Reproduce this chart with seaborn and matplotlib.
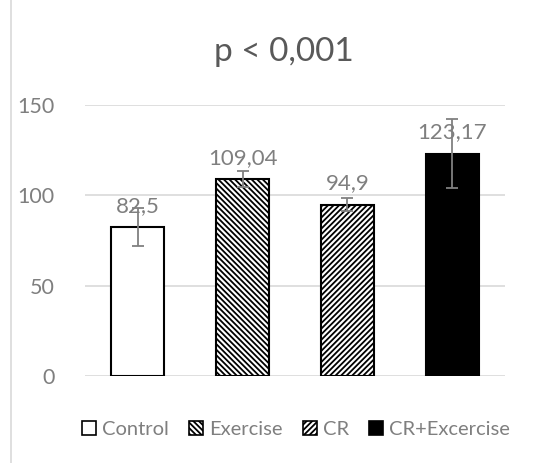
import matplotlib
matplotlib.use("Agg")
import matplotlib.pyplot as plt
import seaborn as sns
import pandas as pd
from matplotlib.patches import Patch
from matplotlib.lines import Line2D

groups = ["Control", "Exercise", "CR", "CR+Excercise"]
means = [82.5, 109.04, 94.9, 123.17]
errors = [10.4, 4.5, 3.8, 19.0]
labels = ["82,5", "109,04", "94,9", "123,17"]
hatches = ["", "\\\\\\\\\\\\", "//////", ""]
fills = ["white", "white", "white", "black"]

sns.set_style("white")
plt.rcParams["font.family"] = ["Lato", "DejaVu Sans"]
plt.rcParams["hatch.linewidth"] = 1.3

df = pd.DataFrame({"group": groups, "mean": means})

fig = plt.figure(figsize=(5.33, 4.63), dpi=100)
ax = fig.add_axes([0.16, 0.188, 0.787, 0.585])

sns.barplot(data=df, x="group", y="mean", hue="group", palette=fills,
            width=0.5, edgecolor="black", linewidth=1.5, legend=False, ax=ax)

for bar, h in zip(ax.patches, hatches):
    bar.set_hatch(h)

ax.errorbar(range(len(groups)), means, yerr=errors, fmt="none",
            ecolor="#808080", elinewidth=1.3, capsize=4, capthick=1.3, zorder=5)

for i, (m, lab) in enumerate(zip(means, labels)):
    ax.annotate(lab, (i, m), xytext=(0, 8), textcoords="offset points",
                ha="center", va="bottom", fontsize=16, color="#7f7f7f", zorder=6)

ax.set_ylim(0, 150)
ax.set_xlim(-0.5, 3.5)
ax.set_yticks([0, 50, 100, 150])
ax.yaxis.grid(True, color="#d9d9d9", linewidth=1.2)
ax.set_axisbelow(True)
ax.set_xticks([])
ax.set_xlabel("")
ax.set_ylabel("")
ax.tick_params(axis="y", labelsize=15.5, labelcolor="#7f7f7f", length=0, pad=22)
sns.despine(ax=ax, left=True, bottom=True, top=True, right=True)

fig.text(0.533, 0.888, "p < 0,001", ha="center", va="center",
         fontsize=24, color="#595959")

handles = [Patch(facecolor=f, edgecolor="black", hatch=h, linewidth=1.2)
           for f, h in zip(fills, hatches)]
fig.legend(handles, groups, loc="center", bbox_to_anchor=(0.555, 0.072), ncol=4,
           frameon=False, fontsize=14.5, labelcolor="#7f7f7f",
           handlelength=0.7, handleheight=0.7, handletextpad=0.3,
           columnspacing=1.0)

fig.add_artist(Line2D([0.02, 0.02], [0, 1], transform=fig.transFigure,
                      color="#d9d9d9", linewidth=1.2))

fig.savefig("out.png", dpi=100)
